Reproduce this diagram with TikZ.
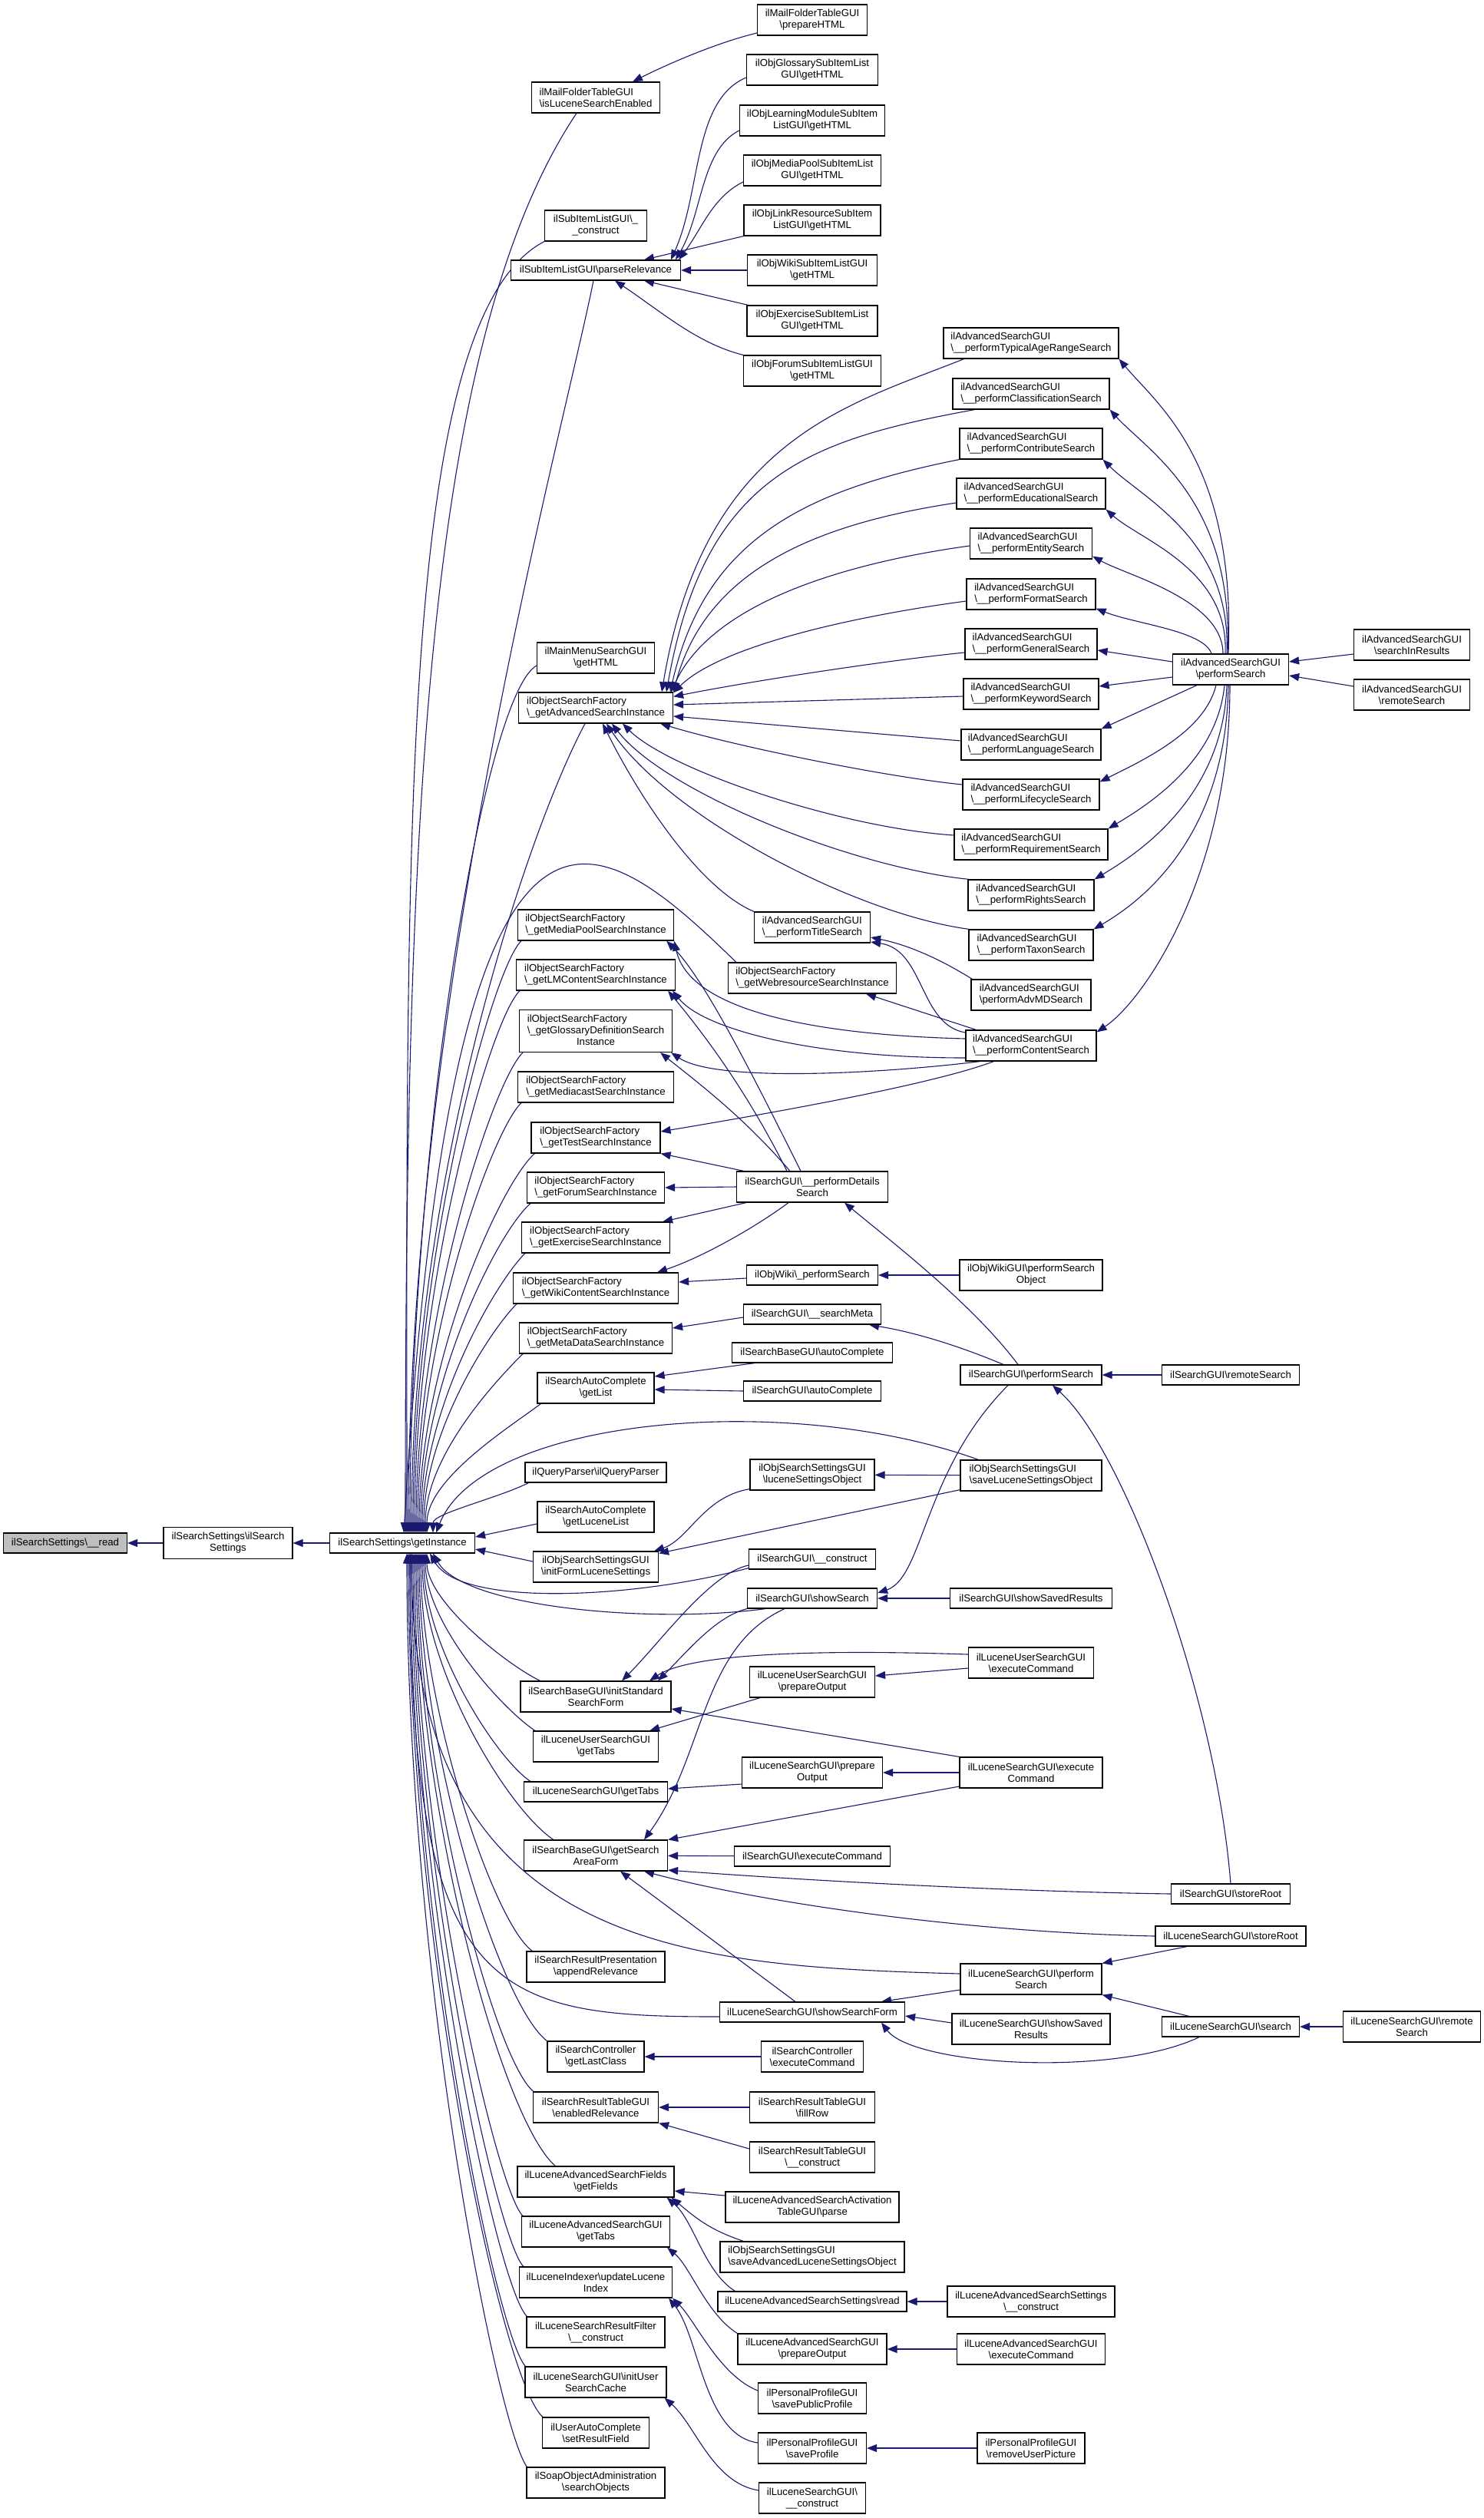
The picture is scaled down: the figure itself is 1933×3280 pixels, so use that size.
\documentclass[tikz,border=0pt]{standalone}
\usepackage{fontspec}
\setmainfont{Liberation Sans}
\usetikzlibrary{arrows.meta,backgrounds}
\definecolor{edgec}{HTML}{191970}
\definecolor{readfill}{HTML}{BFBFBF}
\newcommand\bs{\textbackslash}
\newcommand\mknode[7][box]{\node[#1,minimum width=#5,minimum height=#6] (#2) at (#3,-#4) {#7};}
\newcommand\gup[5]{\draw[e] ([xshift=#2]gi.north) .. controls +(0,#3) and +(-#4,-#5) .. (#1);}
\newcommand\gdn[5]{\draw[e] ([xshift=#2]gi.south) .. controls +(0,-#3) and +(-#4,#5) .. (#1);}
\tikzset{
  box/.style={draw=black, line width=1.2pt, fill=white, inner sep=2pt, align=center, font=\fontsize{13.2}{15}\selectfont},
  lbox/.style={box, align=left},
  e/.style={draw=edgec, line width=1.1pt, {Triangle[length=13pt,width=10pt]}-},
}
\begin{document}
\begin{tikzpicture}[x=1pt,y=1pt]
\useasboundingbox (0,0) rectangle (1933,-3280);
% column 0-2
\mknode[box,fill=readfill]{c0}{85}{2010}{161}{26}{ilSearchSettings\bs\_\_read}
\mknode{c1}{297}{2010}{168}{41}{ilSearchSettings\bs ilSearch\\Settings}
\mknode{gi}{524}{2010}{189}{26}{ilSearchSettings\bs getInstance}
% column 3
\mknode[lbox]{mfe}{776}{127}{167}{40}{ilMailFolderTableGUI\\\bs isLuceneSearchEnabled}
\mknode{sic}{776}{294}{133}{40}{ilSubItemListGUI\bs\_\\\_construct}
\mknode{spr}{776}{352}{221}{26}{ilSubItemListGUI\bs parseRelevance}
\mknode{mmh}{776}{857}{153}{40}{ilMainMenuSearchGUI\\\bs getHTML}
\mknode[lbox]{fadv}{776}{922}{201}{40}{ilObjectSearchFactory\\\bs\_getAdvancedSearchInstance}
\mknode[lbox]{fmp}{776}{1205}{203}{40}{ilObjectSearchFactory\\\bs\_getMediaPoolSearchInstance}
\mknode[lbox]{flm}{776}{1270}{207}{40}{ilObjectSearchFactory\\\bs\_getLMContentSearchInstance}
\mknode{fgl}{776}{1343}{199}{55}{\begin{tabular}{@{}l@{}}ilObjectSearchFactory\\\bs\_getGlossaryDefinitionSearch\\\multicolumn{1}{@{}c@{}}{Instance}\end{tabular}}
\mknode[lbox]{fmc}{776}{1416}{203}{40}{ilObjectSearchFactory\\\bs\_getMediacastSearchInstance}
\mknode[lbox]{fte}{776}{1482}{168}{40}{ilObjectSearchFactory\\\bs\_getTestSearchInstance}
\mknode[lbox]{ffo}{776}{1547}{179}{40}{ilObjectSearchFactory\\\bs\_getForumSearchInstance}
\mknode[lbox]{fex}{776}{1612}{193}{40}{ilObjectSearchFactory\\\bs\_getExerciseSearchInstance}
\mknode[lbox]{fwi}{776}{1678}{215}{40}{ilObjectSearchFactory\\\bs\_getWikiContentSearchInstance}
\mknode[lbox]{fmd}{776}{1743}{199}{40}{ilObjectSearchFactory\\\bs\_getMetaDataSearchInstance}
\mknode{acl}{776}{1808}{152}{40}{ilSearchAutoComplete\\\bs getList}
\mknode{qp}{776}{1918}{184}{26}{ilQueryParser\bs ilQueryParser}
\mknode{acll}{776}{1976}{152}{40}{ilSearchAutoComplete\\\bs getLuceneList}
\mknode{ifl}{776}{2041}{163}{40}{ilObjSearchSettingsGUI\\\bs initFormLuceneSettings}
\mknode{isf}{776}{2210}{196}{40}{ilSearchBaseGUI\bs initStandard\\SearchForm}
\mknode{lutabs}{776}{2275}{163}{40}{ilLuceneUserSearchGUI\\\bs getTabs}
\mknode{lstabs}{776}{2334}{187}{26}{ilLuceneSearchGUI\bs getTabs}
\mknode{gsaf}{776}{2417}{187}{40}{ilSearchBaseGUI\bs getSearch\\AreaForm}
\mknode{srp}{776}{2562}{180}{40}{ilSearchResultPresentation\\\bs appendRelevance}
\mknode{sclc}{776}{2679}{126}{40}{ilSearchController\\\bs getLastClass}
\mknode{srel}{776}{2745}{163}{40}{ilSearchResultTableGUI\\\bs enabledRelevance}
\mknode{lasf}{776}{2842}{204}{40}{ilLuceneAdvancedSearchFields\\\bs getFields}
\mknode{lagt}{776}{2907}{193}{40}{ilLuceneAdvancedSearchGUI\\\bs getTabs}
\mknode{lidx}{776}{2973}{199}{40}{ilLuceneIndexer\bs updateLucene\\Index}
\mknode{lsrf}{776}{3038}{180}{40}{ilLuceneSearchResultFilter\\\bs\_\_construct}
\mknode{lsic}{776}{3103}{184}{40}{ilLuceneSearchGUI\bs initUser\\SearchCache}
\mknode{uac}{776}{3169}{139}{40}{ilUserAutoComplete\\\bs setResultField}
\mknode{soap}{776}{3234}{180}{40}{ilSoapObjectAdministration\\\bs searchObjects}
% column 4
\mknode{mfp}{1058}{26}{143}{40}{ilMailFolderTableGUI\\\bs prepareHTML}
\mknode{gls}{1058}{91}{171}{40}{ilObjGlossarySubItemList\\GUI\bs getHTML}
\mknode{lms}{1058}{157}{189}{40}{ilObjLearningModuleSubItem\\ListGUI\bs getHTML}
\mknode{mps}{1058}{222}{179}{40}{ilObjMediaPoolSubItemList\\GUI\bs getHTML}
\mknode{lrs}{1058}{287}{178}{40}{ilObjLinkResourceSubItem\\ListGUI\bs getHTML}
\mknode{wks}{1058}{352}{169}{40}{ilObjWikiSubItemListGUI\\\bs getHTML}
\mknode{exs}{1058}{418}{170}{40}{ilObjExerciseSubItemList\\GUI\bs getHTML}
\mknode{fos}{1058}{483}{179}{40}{ilObjForumSubItemListGUI\\\bs getHTML}
\mknode[lbox]{ats}{1058}{1208}{151}{40}{ilAdvancedSearchGUI\\\bs\_\_performTitleSearch}
\mknode[lbox]{fwr}{1058}{1274}{219}{40}{ilObjectSearchFactory\\\bs\_getWebresourceSearchInstance}
\mknode{pds}{1058}{1546}{197}{40}{ilSearchGUI\bs\_\_performDetails\\Search}
\mknode{owps}{1058}{1661}{171}{26}{ilObjWiki\bs\_performSearch}
\mknode{sgm}{1058}{1712}{179}{26}{ilSearchGUI\bs\_\_searchMeta}
\mknode{sbac}{1058}{1762}{209}{26}{ilSearchBaseGUI\bs autoComplete}
\mknode{sgac}{1058}{1812}{179}{26}{ilSearchGUI\bs autoComplete}
\mknode{oslso}{1058}{1921}{162}{40}{ilObjSearchSettingsGUI\\\bs luceneSettingsObject}
\mknode{sgc}{1058}{2031}{165}{26}{ilSearchGUI\bs\_\_construct}
\mknode{sgss}{1058}{2082}{169}{26}{ilSearchGUI\bs showSearch}
\mknode{lupo}{1058}{2191}{163}{40}{ilLuceneUserSearchGUI\\\bs prepareOutput}
\mknode{lspo}{1058}{2309}{183}{40}{ilLuceneSearchGUI\bs prepare\\Output}
\mknode{sgec}{1058}{2418}{203}{26}{ilSearchGUI\bs executeCommand}
\mknode{lssf}{1058}{2621}{241}{26}{ilLuceneSearchGUI\bs showSearchForm}
\mknode{scec}{1058}{2679}{133}{40}{ilSearchController\\\bs executeCommand}
\mknode{srfr}{1058}{2745}{163}{40}{ilSearchResultTableGUI\\\bs fillRow}
\mknode{srtc}{1058}{2810}{163}{40}{ilSearchResultTableGUI\\\bs\_\_construct}
\mknode{laat}{1058}{2875}{226}{40}{ilLuceneAdvancedSearchActivation\\TableGUI\bs parse}
\mknode[lbox]{osal}{1058}{2940}{240}{40}{ilObjSearchSettingsGUI\\\bs saveAdvancedLuceneSettingsObject}
\mknode{lasr}{1058}{2998}{246}{26}{ilLuceneAdvancedSearchSettings\bs read}
\mknode{lapo}{1058}{3060}{194}{40}{ilLuceneAdvancedSearchGUI\\\bs prepareOutput}
\mknode{ppsp}{1058}{3124}{141}{40}{ilPersonalProfileGUI\\\bs savePublicProfile}
\mknode{ppsv}{1058}{3189}{141}{40}{ilPersonalProfileGUI\\\bs saveProfile}
\mknode{lsc}{1058}{3254}{139}{40}{ilLuceneSearchGUI\bs\\\_\_construct}
% column 5
\mknode[lbox]{aTy}{1343}{447}{228}{40}{ilAdvancedSearchGUI\\\bs\_\_performTypicalAgeRangeSearch}
\mknode[lbox]{aCl}{1343}{513}{204}{40}{ilAdvancedSearchGUI\\\bs\_\_performClassificationSearch}
\mknode[lbox]{aCo}{1343}{578}{186}{40}{ilAdvancedSearchGUI\\\bs\_\_performContributeSearch}
\mknode[lbox]{aEd}{1343}{643}{194}{40}{ilAdvancedSearchGUI\\\bs\_\_performEducationalSearch}
\mknode[lbox]{aEn}{1343}{708}{159}{40}{ilAdvancedSearchGUI\\\bs\_\_performEntitySearch}
\mknode[lbox]{aFo}{1343}{774}{168}{40}{ilAdvancedSearchGUI\\\bs\_\_performFormatSearch}
\mknode[lbox]{aGe}{1343}{839}{172}{40}{ilAdvancedSearchGUI\\\bs\_\_performGeneralSearch}
\mknode[lbox]{aKe}{1343}{904}{176}{40}{ilAdvancedSearchGUI\\\bs\_\_performKeywordSearch}
\mknode[lbox]{aLa}{1343}{970}{182}{40}{ilAdvancedSearchGUI\\\bs\_\_performLanguageSearch}
\mknode[lbox]{aLi}{1343}{1035}{178}{40}{ilAdvancedSearchGUI\\\bs\_\_performLifecycleSearch}
\mknode[lbox]{aRe}{1343}{1100}{200}{40}{ilAdvancedSearchGUI\\\bs\_\_performRequirementSearch}
\mknode[lbox]{aRi}{1343}{1166}{164}{40}{ilAdvancedSearchGUI\\\bs\_\_performRightsSearch}
\mknode[lbox]{aTa}{1343}{1231}{162}{40}{ilAdvancedSearchGUI\\\bs\_\_performTaxonSearch}
\mknode[lbox]{aMD}{1343}{1296}{156}{40}{ilAdvancedSearchGUI\\\bs performAdvMDSearch}
\mknode[lbox]{aCS}{1343}{1362}{170}{40}{ilAdvancedSearchGUI\\\bs\_\_performContentSearch}
\mknode{owgps}{1343}{1661}{186}{40}{ilObjWikiGUI\bs performSearch\\Object}
\mknode{sgps}{1343}{1791}{184}{26}{ilSearchGUI\bs performSearch}
\mknode[lbox]{oslsave}{1343}{1922}{184}{40}{ilObjSearchSettingsGUI\\\bs saveLuceneSettingsObject}
\mknode{sgssr}{1343}{2082}{211}{26}{ilSearchGUI\bs showSavedResults}
\mknode{luec}{1343}{2166}{163}{40}{ilLuceneUserSearchGUI\\\bs executeCommand}
\mknode{lsec}{1343}{2309}{186}{40}{ilLuceneSearchGUI\bs execute\\Command}
\mknode{lsps}{1343}{2578}{184}{40}{ilLuceneSearchGUI\bs perform\\Search}
\mknode{lsssr}{1343}{2643}{206}{40}{ilLuceneSearchGUI\bs showSaved\\Results}
\mknode{lasc}{1343}{2998}{218}{40}{ilLuceneAdvancedSearchSettings\\\bs\_\_construct}
\mknode{laec}{1343}{3060}{193}{40}{ilLuceneAdvancedSearchGUI\\\bs executeCommand}
\mknode{pprm}{1343}{3189}{140}{40}{ilPersonalProfileGUI\\\bs removeUserPicture}
% column 6
\mknode{asps}{1603}{872}{151}{40}{ilAdvancedSearchGUI\\\bs performSearch}
\mknode{sgrs}{1603}{1791}{179}{26}{ilSearchGUI\bs remoteSearch}
\mknode{sgsr}{1603}{2467}{155}{26}{ilSearchGUI\bs storeRoot}
\mknode{lssr}{1603}{2522}{196}{26}{ilLuceneSearchGUI\bs storeRoot}
\mknode{lss}{1603}{2640}{179}{26}{ilLuceneSearchGUI\bs search}
% column 7
\mknode{asir}{1839}{840}{151}{40}{ilAdvancedSearchGUI\\\bs searchInResults}
\mknode{asrs}{1839}{905}{151}{40}{ilAdvancedSearchGUI\\\bs remoteSearch}
\mknode{lsrs}{1839}{2640}{179}{40}{ilLuceneSearchGUI\bs remote\\Search}

\begin{scope}[on background layer]
\fill[white] (0,0) rectangle (1933,-3280);
\draw[e] (c0) -- (c1);
\draw[e] (c1) -- (gi);
% getInstance, callers above
\gup{[xshift=59]mfe.south west}{4}{900}{200}{300}
\gup{sic.south west}{6}{897}{190}{99}
\gup{[xshift=-3]spr.south}{8}{700}{40}{200}
\gup{[yshift=-10]mmh.west}{10}{500}{70}{40}
\gup{[xshift=-14]fadv.south}{12}{450}{80}{150}
\gup{[xshift=5]fmp.south west}{14}{350}{40}{40}
\gup{[xshift=5]flm.south west}{16}{320}{40}{40}
\gup{[xshift=5]fgl.south west}{18}{280}{40}{40}
\gup{[xshift=5]fmc.south west}{20}{250}{40}{40}
\gup{[xshift=5]fte.south west}{22}{220}{45}{40}
\gup{[xshift=5]ffo.south west}{24}{190}{45}{40}
\gup{[xshift=5]fex.south west}{26}{160}{40}{40}
\gup{[xshift=5]fwi.south west}{28}{130}{35}{35}
\gup{[xshift=5]fmd.south west}{30}{100}{35}{35}
\gup{[xshift=5]acl.south west}{32}{70}{40}{30}
\gup{[xshift=5]qp.south west}{40}{25}{40}{20}
\draw[e] ([yshift=8]gi.east) -- ([yshift=-9]acll.west);
\draw[e] ([yshift=-8]gi.east) -- ([yshift=7]ifl.west);
\draw[e] ([xshift=2]gi.north) .. controls +(64,1067) and +(-189,184) .. ([xshift=11]fwr.north west);
\draw[e] ([xshift=44]gi.north) .. controls +(60,150) and +(-250,90) .. ([xshift=24]oslsave.north west);
% getInstance, callers below
\gdn{[xshift=26]isf.north west}{32}{60}{50}{25}
\gdn{[xshift=3]lutabs.north west}{30}{90}{45}{30}
\gdn{[xshift=9]lstabs.north west}{28}{120}{45}{30}
\gdn{[xshift=39]gsaf.north west}{26}{150}{60}{40}
\gdn{[xshift=8]srp.north west}{24}{200}{50}{35}
\gdn{sclc.north west}{22}{260}{60}{45}
\gdn{[xshift=1]srel.north west}{20}{290}{50}{40}
\gdn{[xshift=50]lasf.north west}{18}{330}{70}{60}
\gdn{[xshift=2]lagt.north west}{16}{370}{35}{35}
\gdn{[xshift=6]lidx.north west}{14}{400}{35}{35}
\gdn{[xshift=1]lsrf.north west}{12}{430}{40}{40}
\gdn{[xshift=1]lsic.north west}{10}{460}{40}{45}
\gdn{[xshift=1]uac.north west}{8}{500}{55}{50}
\gdn{[xshift=1]soap.north west}{6}{540}{40}{55}
\draw[e] ([xshift=36]gi.south) .. controls +(40,-70) and +(-150,-40) .. ([yshift=2]sgc.south west);
\draw[e] ([xshift=40]gi.south) .. controls +(40,-70) and +(-150,-20) .. ([xshift=24]sgss.south west);
\draw[e] ([xshift=10]gi.south) .. controls +(0,-577) and +(-297,0) .. ([yshift=-6]lssf.west);
\draw[e] ([xshift=12]gi.south) .. controls +(0,-520) and +(-350,10) .. ([yshift=7]lsps.west);
% mail / subitems
\draw[e] ([xshift=48]mfe.north) .. controls +(50,25) and +(-50,-12) .. ([yshift=-17]mfp.west);
\draw[e] ([xshift=98]spr.north) .. controls +(40,90) and +(-70,-30) .. ([yshift=-10]gls.west);
\draw[e] ([xshift=104]spr.north) .. controls +(35,60) and +(-50,-25) .. ([yshift=-13]lms.west);
\draw[e] ([xshift=108]spr.north) .. controls +(30,40) and +(-40,-20) .. ([yshift=-15]mps.west);
\draw[e] ([xshift=63]spr.north) -- (lrs.south west);
\draw[e] (spr) -- (wks);
\draw[e] ([xshift=63]spr.south) -- ([xshift=2]exs.north west);
\draw[e] ([xshift=25]spr.south) .. controls +(60,-40) and +(-60,15) .. (fos.north west);
% advanced search instance
\draw[e] ([xshift=86]fadv.north) .. controls +(55,330) and +(-150,-60) .. ([xshift=27]aTy.south west);
\draw[e] ([xshift=92]fadv.north) .. controls +(50,280) and +(-220,-40) .. ([xshift=29]aCl.south west);
\draw[e] ([xshift=97]fadv.north) .. controls +(45,200) and +(-200,-40) .. (aCo.south west);
\draw[e] (fadv.north east) .. controls +(40,150) and +(-200,-30) .. ([yshift=-12]aEd.west);
\draw[e] ([xshift=-3]fadv.north east) .. controls +(50,110) and +(-180,-25) .. ([yshift=-3]aEn.west);
\draw[e] ([yshift=-1]fadv.north east) .. controls +(60,60) and +(-150,-20) .. ([yshift=-9]aFo.west);
\draw[e] ([yshift=-6]fadv.north east) .. controls +(100,20) and +(-100,-10) .. ([yshift=-11]aGe.west);
\draw[e] ([yshift=4]fadv.east) -- ([yshift=-3]aKe.west);
\draw[e] ([yshift=-11]fadv.east) -- ([yshift=5]aLa.west);
\draw[e] ([xshift=-17]fadv.south east) .. controls +(100,-30) and +(-100,10) .. ([yshift=13]aLi.west);
\draw[e] ([xshift=35]fadv.south) .. controls +(60,-60) and +(-150,10) .. ([yshift=12]aRe.west);
\draw[e] ([xshift=21]fadv.south) .. controls +(70,-90) and +(-150,15) .. ([xshift=2]aRi.north west);
\draw[e] ([xshift=14]fadv.south) .. controls +(80,-120) and +(-150,20) .. ([xshift=1]aTa.north west);
\draw[e] ([xshift=9]fadv.south) .. controls +(50,-100) and +(-70,30) .. (ats.north west);
% advanced performSearch
\draw[e] (aTy.south east) .. controls +(50,-60) and +(10,250) .. ([xshift=-3]asps.north);
\draw[e] (aCl.south east) .. controls +(50,-55) and +(8,200) .. ([xshift=-4]asps.north);
\draw[e] (aCo.south east) .. controls +(50,-50) and +(6,150) .. ([xshift=-5]asps.north);
\draw[e] (aEd.south east) .. controls +(45,-40) and +(5,110) .. ([xshift=-7]asps.north);
\draw[e] ([yshift=4]aEn.south east) .. controls +(45,-25) and +(0,70) .. ([xshift=-10]asps.north);
\draw[e] ([yshift=2]aFo.south east) .. controls +(50,-20) and +(-10,30) .. ([xshift=-25]asps.north);
\draw[e] ([yshift=-8]aGe.east) -- ([yshift=10]asps.west);
\draw[e] ([yshift=10]aKe.east) -- ([yshift=-10]asps.west);
\draw[e] (aLa.north east) -- ([xshift=-44]asps.south);
\draw[e] ([yshift=-4]aLi.north east) .. controls +(60,30) and +(-15,-60) .. ([xshift=-19]asps.south);
\draw[e] (aRe.north east) .. controls +(50,30) and +(-10,-100) .. ([xshift=-8]asps.south);
\draw[e] (aRi.north east) .. controls +(50,30) and +(-5,-150) .. ([xshift=-5]asps.south);
\draw[e] (aTa.north east) .. controls +(60,35) and +(-3,-200) .. ([xshift=-3]asps.south);
\draw[e] ([yshift=-3]aCS.north east) .. controls +(60,40) and +(0,-250) .. ([xshift=-1]asps.south);
\draw[e] ([yshift=10]asps.east) -- ([yshift=-12]asir.west);
\draw[e] ([yshift=-8]asps.east) -- ([yshift=11]asrs.west);
% title / content search
\draw[e] ([yshift=-13]ats.east) .. controls +(50,-10) and +(-40,25) .. ([xshift=2]aMD.north west);
\draw[e] ([yshift=-19]ats.east) .. controls +(70,-10) and +(-60,10) .. ([yshift=17]aCS.west);
\draw[e] ([xshift=70]fwr.south) -- ([xshift=14]aCS.north west);
\draw[e] (fmp.south east) .. controls +(20,-90) and +(-200,5) .. ([yshift=9]aCS.west);
\draw[e] ([xshift=-4]flm.south east) .. controls +(40,-50) and +(-200,0) .. ([yshift=-16]aCS.west);
\draw[e] ([xshift=-2]fgl.south east) .. controls +(60,-40) and +(-120,-15) .. ([xshift=19]aCS.south west);
\draw[e] ([yshift=8]fte.east) .. controls +(150,25) and +(-80,-30) .. ([xshift=37]aCS.south west);
% details search
\draw[e] ([xshift=-10]fmp.south east) .. controls +(50,-50) and +(-60,120) .. ([xshift=-15]pds.north);
\draw[e] ([xshift=-10]flm.south east) .. controls +(50,-60) and +(-50,100) .. ([xshift=-33]pds.north);
\draw[e] ([xshift=-16]fgl.south east) .. controls +(50,-40) and +(-60,70) .. ([xshift=-29]pds.north);
\draw[e] (fte.south east) -- ([xshift=10]pds.north west);
\draw[e] (ffo.east) -- (pds.west);
\draw[e] ([xshift=-10]fex.north east) -- ([xshift=13]pds.south west);
\draw[e] ([xshift=80]fwi.north) .. controls +(60,20) and +(-40,-30) .. ([xshift=-31]pds.south);
\draw[e] ([yshift=8]fwi.east) -- ([yshift=-4]owps.west);
\draw[e] (owps) -- (owgps);
\draw[e] ([yshift=13]fmd.east) -- ([yshift=-4]sgm.west);
\draw[e] ([xshift=74]sgm.south) .. controls +(60,-10) and +(-60,25) .. ([xshift=-36]sgps.north);
\draw[e] ([xshift=42]pds.south) .. controls +(60,-50) and +(-60,80) .. ([xshift=-17]sgps.north);
\draw[e] ([yshift=15]acl.east) -- ([xshift=30]sbac.south west);
\draw[e] ([yshift=-2]acl.east) -- (sgac.west);
\draw[e] (sgps) -- (sgrs);
\draw[e] ([xshift=28]sgps.south) .. controls +(90,-80) and +(-20,250) .. (sgsr.north);
\draw[e] ([yshift=7]sgss.east) .. controls +(60,20) and +(-110,-110) .. ([xshift=-30]sgps.south);
\draw[e] (sgss) -- (sgssr);
% lucene settings
\draw[e] (oslso) -- (oslsave);
\draw[e] ([xshift=-6]ifl.north east) .. controls +(45,15) and +(-60,-10) .. ([yshift=2]oslso.south west);
\draw[e] ([yshift=-3]ifl.north east) -- ([yshift=2]oslsave.south west);
% standard search form
\draw[e] ([xshift=34]isf.north) .. controls +(50,50) and +(-50,-10) .. ([yshift=-8]sgc.west);
\draw[e] ([xshift=81]isf.north) .. controls +(40,40) and +(-40,-10) .. (sgss.south west);
\draw[e] ([xshift=70]isf.north) .. controls +(60,40) and +(-150,5) .. ([yshift=11]luec.west);
\draw[e] ([yshift=-16]isf.east) -- (lsec.north west);
\draw[e] ([xshift=-12]lutabs.north east) -- ([xshift=14]lupo.south west);
\draw[e] ([yshift=8]lupo.east) -- ([yshift=-7]luec.west);
\draw[e] ([yshift=4]lstabs.east) -- ([yshift=-15]lspo.west);
\draw[e] (lspo) -- (lsec);
% search area form
\draw[e] (gsaf.north east) -- ([yshift=-18]lsec.west);
\draw[e] (gsaf) -- (sgec);
\draw[e] ([yshift=-19]gsaf.east) .. controls +(200,-15) and +(-200,3) .. (sgsr.west);
\draw[e] ([xshift=63]gsaf.south) .. controls +(150,-40) and +(-250,5) .. (lssr.west);
\draw[e] ([xshift=63]gsaf.north) .. controls +(80,110) and +(-110,-50) .. ([xshift=-36]sgss.south);
\draw[e] ([xshift=32]gsaf.south) -- ([xshift=-22]lssf.north);
% lucene search gui
\draw[e] ([xshift=90]lssf.north) -- ([yshift=-14]lsps.west);
\draw[e] ([yshift=-5]lssf.east) -- ([yshift=8]lsssr.west);
\draw[e] ([xshift=90]lssf.south) .. controls +(42,-56) and +(-112,-53) .. ([xshift=-41]lss.south);
\draw[e] (lsps.north east) -- ([xshift=-57]lssr.south);
\draw[e] (lsps.south east) -- ([xshift=-54]lss.north);
\draw[e] (lss) -- (lsrs);
% lower part
\draw[e] (sclc) -- (scec);
\draw[e] (srel) -- (srfr);
\draw[e] (srel.south east) -- ([yshift=11]srtc.west);
\draw[e] ([yshift=-12]lasf.east) -- ([yshift=15]laat.west);
\draw[e] ([xshift=-4]lasf.south east) .. controls +(30,-25) and +(-45,15) .. ([xshift=31]osal.north west);
\draw[e] ([xshift=-10]lasf.south east) .. controls +(35,-30) and +(-40,25) .. ([xshift=23]lasr.north west);
\draw[e] (lasr) -- (lasc);
\draw[e] ([xshift=-4]lagt.south east) .. controls +(30,-25) and +(-40,25) .. (lapo.north west);
\draw[e] (lapo) -- (laec);
\draw[e] (lidx.south east) .. controls +(30,-30) and +(-50,20) .. ([yshift=10]ppsp.west);
\draw[e] ([xshift=-5]lidx.south east) .. controls +(40,-50) and +(-70,10) .. ([yshift=7]ppsv.west);
\draw[e] (ppsv) -- (pprm);
\draw[e] ([xshift=-3]lsic.south east) .. controls +(40,-35) and +(-60,10) .. ([yshift=10]lsc.west);
\end{scope}
\end{tikzpicture}
\end{document}
